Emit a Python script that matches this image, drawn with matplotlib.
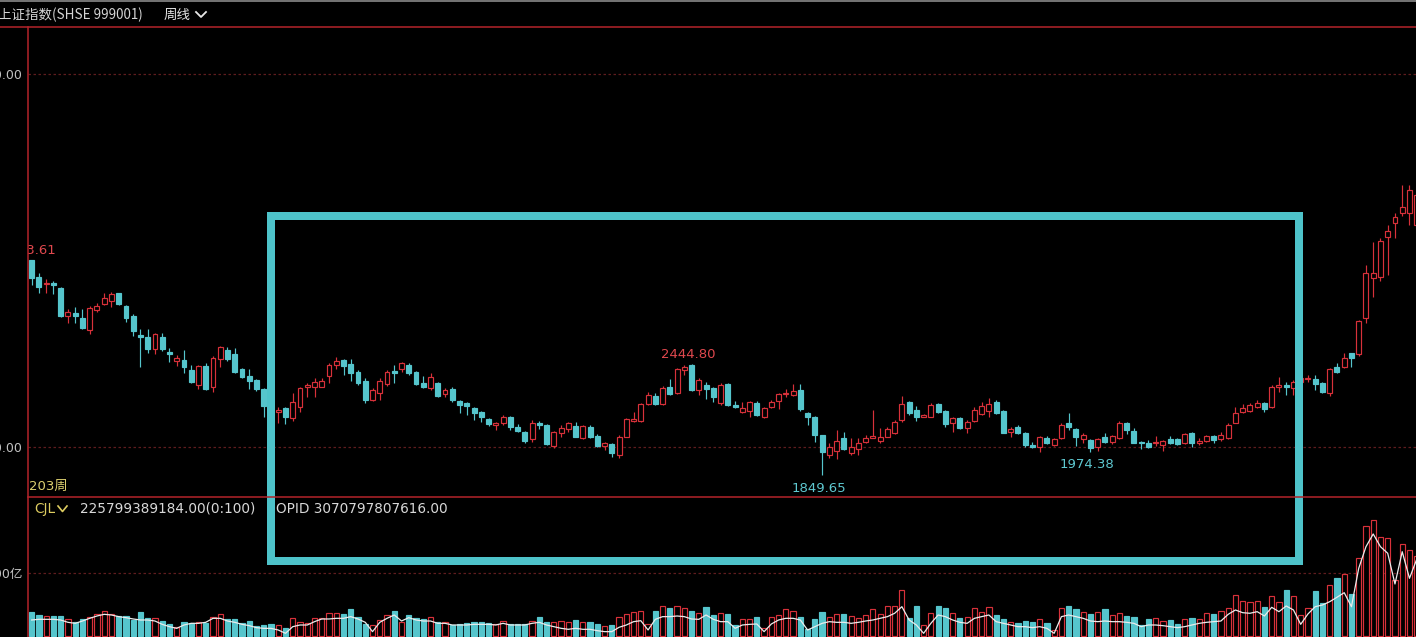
import matplotlib
matplotlib.use('Agg')
import matplotlib.pyplot as plt
import matplotlib.transforms as mtransforms
from matplotlib.patches import Rectangle
import numpy as np

plt.rcParams['font.family'] = ['DejaVu Sans', 'Noto Sans CJK SC']

# weekly K lines (上证指数 周线)
opens = [3003, 2913, 2872, 2878, 2854, 2702, 2717, 2690, 2627, 2735,
         2767, 2784, 2824, 2756, 2702, 2601, 2591, 2525, 2591, 2511,
         2463, 2466, 2413, 2332, 2434, 2323, 2470, 2520, 2497, 2417,
         2381, 2359, 2309, 2215, 2189, 2211, 2154, 2216, 2323, 2323,
         2323, 2381, 2440, 2466, 2445, 2404, 2356, 2252, 2288, 2338,
         2408, 2417, 2440, 2404, 2345, 2315, 2345, 2284, 2309, 2248,
         2238, 2208, 2189, 2150, 2118, 2127, 2159, 2106, 2082, 2041,
         2127, 2118, 2005, 2077, 2095, 2113, 2047, 2109, 2061, 2005,
         2016, 1957, 2055, 2141, 2141, 2231, 2273, 2231, 2323, 2288,
         2413, 2440, 2306, 2332, 2315, 2234, 2338, 2225, 2189, 2195,
         2234, 2162, 2216, 2248, 2284, 2279, 2306, 2184, 2162, 2064,
         1957, 1980, 2047, 1969, 1988, 2028, 2050, 2034, 2055, 2077,
         2145, 2243, 2198, 2162, 2162, 2231, 2195, 2127, 2154, 2100,
         2141, 2177, 2195, 2243, 2195, 2082, 2109, 2077, 2011, 1998,
         2047, 2011, 2047, 2127, 2095, 2041, 2038, 1998, 2055, 2028,
         2047, 2127, 2087, 2028, 2023, 2020, 2011, 2041, 2041, 2020,
         2073, 2023, 2034, 2059, 2041, 2047, 2130, 2189, 2195, 2216,
         2238, 2216, 2323, 2332, 2315, 2350, 2363, 2363, 2345, 2288,
         2427, 2427, 2502, 2499, 2690, 2905, 2913, 3128, 3203, 3256,
         3256, 3190]
highs = [3003.61, 2931, 2899, 2890, 2860, 2738, 2749, 2738, 2756, 2774,
         2824, 2833, 2827, 2761, 2713, 2631, 2631, 2613, 2613, 2529,
         2493, 2520, 2440, 2440, 2452, 2488, 2542, 2538, 2529, 2422,
         2417, 2363, 2315, 2225, 2216, 2216, 2288, 2323, 2342, 2368,
         2368, 2449, 2481, 2470, 2470, 2413, 2368, 2315, 2368, 2413,
         2440, 2457, 2449, 2406, 2381, 2395, 2350, 2315, 2320, 2252,
         2243, 2216, 2195, 2154, 2136, 2172, 2166, 2123, 2087, 2145,
         2139, 2123, 2087, 2118, 2136, 2136, 2118, 2118, 2070, 2028,
         2023, 2064, 2154, 2189, 2238, 2297, 2288, 2327, 2363, 2422,
         2442, 2444.80, 2368, 2350, 2323, 2342, 2342, 2248, 2243, 2248,
         2248, 2216, 2252, 2291, 2309, 2338, 2338, 2186, 2164, 2066,
         2023, 2091, 2082, 2047, 2047, 2064, 2198, 2100, 2109, 2145,
         2273, 2248, 2220, 2177, 2234, 2238, 2198, 2162, 2159, 2145,
         2216, 2243, 2261, 2252, 2198, 2109, 2118, 2082, 2028, 2059,
         2059, 2047, 2127, 2181, 2100, 2077, 2041, 2047, 2077, 2064,
         2141, 2136, 2100, 2030, 2038, 2059, 2038, 2059, 2047, 2073,
         2082, 2047, 2064, 2064, 2082, 2127, 2216, 2231, 2234, 2252,
         2243, 2332, 2377, 2350, 2359, 2380, 2386, 2386, 2350, 2422,
         2449, 2502, 2505, 2681, 2976, 3101, 3119, 3190, 3253, 3405,
         3405, 3378]
lows = [2869, 2827, 2827, 2820, 2695, 2666, 2666, 2631, 2604, 2725,
        2761, 2749, 2761, 2672, 2595, 2427, 2506, 2499, 2516, 2457,
        2434, 2395, 2345, 2309, 2306, 2297, 2431, 2463, 2398, 2368,
        2309, 2302, 2162, 2180, 2127, 2123, 2141, 2189, 2266, 2270,
        2320, 2342, 2417, 2386, 2356, 2332, 2234, 2248, 2252, 2327,
        2345, 2404, 2386, 2332, 2315, 2306, 2270, 2270, 2243, 2181,
        2172, 2145, 2136, 2113, 2091, 2118, 2091, 2082, 2020, 2028,
        2095, 2011, 1993, 2055, 2082, 2052, 2041, 2047, 1998, 1984,
        1945, 1939, 2052, 2136, 2136, 2225, 2225, 2225, 2279, 2284,
        2386, 2302, 2279, 2256, 2243, 2225, 2220, 2208, 2181, 2162,
        2166, 2154, 2208, 2202, 2270, 2273, 2195, 2118, 2028, 1849.65,
        1939, 1934, 1984, 1957, 1957, 2020, 2047, 2020, 2052, 2070,
        2136, 2172, 2141, 2159, 2159, 2181, 2109, 2082, 2095, 2073,
        2136, 2172, 2162, 2177, 2073, 2055, 2070, 2002, 1993, 1975,
        2016, 2005, 2041, 2091, 2005, 2023, 1974.38, 1980, 2023, 2016,
        2041, 2070, 2020, 1988, 1993, 2005, 1980, 2016, 2011, 2016,
        2002, 2011, 2028, 2020, 2034, 2041, 2127, 2181, 2189, 2208,
        2189, 2208, 2297, 2279, 2279, 2340, 2350, 2306, 2288, 2273,
        2395, 2422, 2431, 2488, 2663, 2803, 2892, 2922, 3119, 3239,
        3190, 3174]
closes = [2908, 2856, 2881, 2869, 2702, 2725, 2702, 2636, 2747, 2756,
          2797, 2820, 2767, 2690, 2624, 2591, 2525, 2606, 2525, 2499,
          2479, 2427, 2350, 2434, 2309, 2476, 2535, 2470, 2404, 2374,
          2356, 2309, 2220, 2195, 2198, 2159, 2243, 2315, 2332, 2350,
          2354, 2440, 2461, 2434, 2395, 2345, 2252, 2306, 2356, 2404,
          2398, 2449, 2395, 2336, 2323, 2374, 2273, 2306, 2252, 2225,
          2220, 2184, 2162, 2123, 2127, 2162, 2106, 2087, 2034, 2130,
          2118, 2016, 2082, 2100, 2127, 2055, 2113, 2055, 2005, 2023,
          1969, 2055, 2149, 2150, 2231, 2279, 2231, 2315, 2284, 2417,
          2431, 2306, 2359, 2309, 2270, 2332, 2225, 2216, 2208, 2243,
          2172, 2208, 2243, 2284, 2291, 2302, 2202, 2159, 2064, 1975,
          2002, 2034, 1988, 2002, 2023, 2047, 2059, 2055, 2095, 2136,
          2231, 2184, 2162, 2172, 2225, 2189, 2123, 2154, 2100, 2136,
          2198, 2220, 2231, 2184, 2077, 2095, 2073, 2011, 1998, 2052,
          2023, 2041, 2118, 2109, 2052, 2064, 1993, 2041, 2028, 2059,
          2130, 2091, 2023, 2020, 2002, 2028, 2034, 2023, 2016, 2070,
          2023, 2032, 2059, 2038, 2064, 2118, 2181, 2208, 2225, 2238,
          2202, 2323, 2332, 2320, 2350, 2370, 2372, 2338, 2297, 2417,
          2404, 2476, 2476, 2677, 2935, 2935, 3106, 3160, 3235, 3289,
          3378, 3351]

# CJL volume (亿) and the white OPID line, same scale
volumes = [772, 667, 635, 635, 635, 529, 455, 540, 614, 688,
           794, 698, 635, 635, 508, 772, 582, 582, 476, 370,
           296, 455, 402, 455, 423, 614, 688, 529, 529, 402,
           476, 317, 349, 381, 349, 243, 561, 434, 402, 561,
           582, 720, 720, 688, 847, 614, 370, 349, 508, 667,
           804, 455, 667, 582, 529, 614, 455, 455, 349, 381,
           402, 455, 455, 402, 370, 487, 381, 381, 381, 476,
           614, 434, 434, 486, 454, 508, 454, 454, 381, 327,
           349, 613, 689, 772, 803, 381, 803, 962, 879, 962,
           879, 803, 721, 930, 667, 721, 689, 349, 530, 530,
           613, 244, 613, 667, 848, 803, 613, 222, 529, 772,
           614, 698, 698, 635, 582, 667, 847, 688, 963, 963,
           1460, 561, 963, 349, 741, 963, 878, 720, 561, 614,
           878, 772, 910, 667, 529, 455, 423, 476, 455, 529,
           423, 190, 878, 963, 847, 772, 698, 751, 847, 667,
           741, 646, 614, 349, 529, 582, 476, 508, 381, 529,
           582, 529, 720, 698, 804, 899, 1302, 1121, 1070, 1121,
           930, 1270, 1070, 1460, 1270, 667, 879, 1429, 1038, 1619,
           1851, 1959, 1324, 2467, 3502, 3683, 3153, 3102, 1778, 2921,
           2731, 2540]
opid = [508, 529, 529, 529, 508, 434, 402, 476, 561, 635,
        688, 667, 614, 582, 540, 508, 508, 476, 370, 296,
        243, 349, 402, 402, 434, 561, 561, 476, 434, 370,
        328, 265, 243, 243, 190, 85, 296, 349, 349, 455,
        540, 540, 561, 561, 614, 540, 434, 138, 434, 561,
        667, 476, 582, 508, 476, 476, 402, 402, 349, 349,
        349, 370, 370, 370, 349, 402, 349, 349, 349, 402,
        434, 349, 296, 244, 212, 244, 212, 212, 169, 138,
        138, 276, 349, 455, 486, 191, 529, 614, 614, 635,
        614, 540, 529, 667, 529, 455, 455, 244, 349, 370,
        381, 138, 381, 508, 561, 561, 508, 190, 296, 402,
        455, 434, 434, 402, 434, 476, 508, 561, 614, 720,
        931, 508, 349, 85, 402, 667, 614, 508, 434, 402,
        561, 614, 667, 455, 402, 349, 296, 296, 265, 296,
        243, 85, 614, 667, 614, 561, 476, 455, 476, 455,
        455, 434, 402, 296, 349, 349, 328, 296, 265, 296,
        349, 402, 434, 455, 476, 688, 826, 740, 721, 772,
        635, 911, 772, 953, 826, 371, 699, 930, 984, 1089,
        1229, 1375, 930, 2149, 2835, 3239, 2835, 2626, 1651, 2677,
        1832, 2435]

price_ticks = [2000, 4000]
price_tick_labels = ['2000.00', '4000.00']
vol_ticks = [2000]
vol_tick_labels = ['2000亿']

RED = '#d8313a'
CYAN = '#55c5cc'
BOX = '#4ec3ca'
GRID = '#5e1c1e'
AXRED = '#b3242a'

W, H = 1416, 637
fig = plt.figure(figsize=(W / 100, H / 100), dpi=100, facecolor='black')


def px_axes(left, top, right, bottom):
    return fig.add_axes([left / W, 1 - bottom / H, (right - left) / W, (bottom - top) / H])


ax = px_axes(28, 27, 1416, 497)
axv = px_axes(28, 497, 1416, 637)

o = np.array(opens, dtype=float)
h = np.array(highs, dtype=float)
l = np.array(lows, dtype=float)
c = np.array(closes, dtype=float)
v = np.array(volumes, dtype=float)
x = np.arange(len(o))
up = c >= o
cols = np.where(up, RED, CYAN)

for a in (ax, axv):
    a.set_facecolor('black')
    for s in a.spines.values():
        s.set_visible(False)
    a.set_xlim(-0.51, 190.9)
    a.set_xticks([])
    a.tick_params(axis='y', length=0, pad=4, labelcolor='#c2c2c2', labelsize=9)

# price pane
ax.set_ylim(1732, 4252)
ax.set_yticks(price_ticks)
ax.set_yticklabels(price_tick_labels)
for t in price_ticks:
    ax.axhline(t, color=GRID, lw=0.9, ls=(0, (2, 2)), zorder=1)

ax.vlines(x, l, h, colors=cols, linewidth=0.85, zorder=2)
lo = np.minimum(o, c)
bh = np.abs(c - o)
ax.bar(x[up], bh[up], bottom=lo[up], width=0.68, facecolor='black',
       edgecolor=RED, linewidth=0.85, zorder=3)
ax.bar(x[~up], bh[~up], bottom=lo[~up], width=0.68, facecolor=CYAN,
       edgecolor=CYAN, linewidth=0.85, zorder=3)


def mark(i, val, txt, color, dx, dy, ha, va):
    tr = mtransforms.offset_copy(ax.transData, fig=fig, x=dx, y=dy, units='dots')
    ax.text(i, val, txt, transform=tr, ha=ha, va=va, color=color,
            fontsize=9.5, clip_on=True, zorder=5)


mark(0, highs[0], '3003.61', '#e0484e', 25, 3, 'right', 'bottom')
mark(91, highs[91], '2444.80', '#e0484e', -3, 3, 'center', 'bottom')
mark(109, lows[109], '1849.65', '#5ec8d0', -3, -7, 'center', 'top')
mark(146, lows[146], '1974.38', '#5ec8d0', -3, -6, 'center', 'top')

# volume pane
axv.set_ylim(-32, 4413)
axv.set_yticks(vol_ticks)
axv.set_yticklabels(vol_tick_labels)
for t in vol_ticks:
    axv.axhline(t, color=GRID, lw=0.9, ls=(0, (2, 2)), zorder=1)
axv.bar(x[up], v[up], width=0.72, facecolor='black', edgecolor=RED, linewidth=0.85, zorder=2)
axv.bar(x[~up], v[~up], width=0.72, facecolor=CYAN, edgecolor=CYAN, linewidth=0.85, zorder=2)
axv.plot(x, opid, color='#ececec', lw=0.9, zorder=3)

# frame, headers and the highlight box, in pixel coordinates
ov = fig.add_axes([0, 0, 1, 1], facecolor='none')
ov.set_xlim(0, W)
ov.set_ylim(H, 0)
ov.axis('off')

ov.plot([0, W], [0.8, 0.8], color='#8a8a8a', lw=1.2)
ov.plot([0, W], [27, 27], color=AXRED, lw=1.1)
ov.plot([28, 28], [27, H], color=AXRED, lw=1.1)
ov.plot([28, W], [497, 497], color=AXRED, lw=1.1)

ov.text(-2, 15, '上证指数(SHSE 999001)', color='#d4d4d4', fontsize=9.7,
        family=['Noto Sans CJK SC'], va='center', ha='left')
ov.text(164, 15, '周线', color='#e8e8e8', fontsize=9.7,
        family=['Noto Sans CJK SC'], va='center', ha='left')
ov.plot([196, 201, 206], [12, 17, 12], color='#e8e8e8', lw=1.3)

ov.text(29, 486, '203周', color='#ddd070', fontsize=9.5, va='center', ha='left')
ov.text(34, 509, 'CJL', color='#ddcc60', fontsize=9.8, va='center', ha='left')
ov.plot([58, 62.5, 67], [506, 511.5, 506], color='#ddcc60', lw=1.2)
ov.text(80, 509, '225799389184.00(0:100)', color='#d8d8d8', fontsize=9.8,
        va='center', ha='left')
ov.text(276, 509, 'OPID 3070797807616.00', color='#d8d8d8', fontsize=9.8,
        va='center', ha='left')

ov.add_patch(Rectangle((271, 215.5), 1028, 345.5, fill=False, edgecolor=BOX,
                       linewidth=8 * 0.72, joinstyle='miter'))

fig.savefig('out.png', dpi=100, facecolor='black')
